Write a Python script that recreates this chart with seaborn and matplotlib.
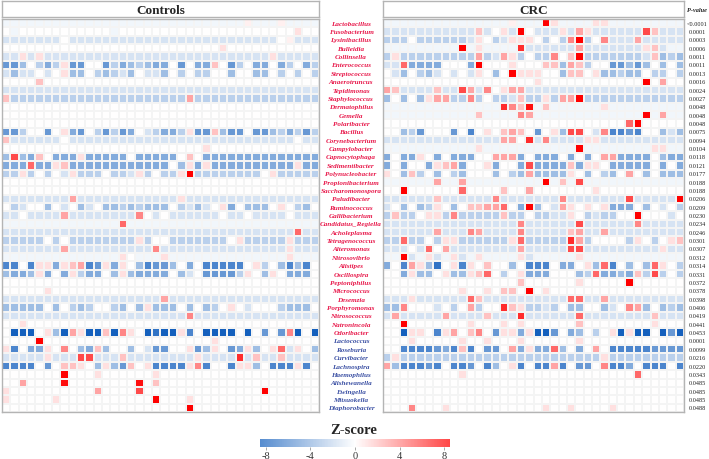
import numpy as np
import pandas as pd
import matplotlib
matplotlib.use("Agg")
import matplotlib.pyplot as plt
import seaborn as sns
from matplotlib.colors import LinearSegmentedColormap

# genera enriched in CRC (red labels) and in controls (blue labels)
genera_up = ["Lactobacillus", "Fusobacterium", "Lysinibacillus", "Bulleidia", "Collinsella",
             "Enterococcus", "Streptococcus", "Anaerotruncus", "Tepidimonas", "Staphylococcus",
             "Dermatophilus", "Gemella", "Polaribacter", "Bacillus", "Corynebacterium",
             "Campylobacter", "Capnocytophaga", "Sedimentibacter", "Polynucleobacter",
             "Propionibacterium", "Saccharomonospora", "Paludibacter", "Ruminococcus",
             "Gallibacterium", "Candidatus_Regiella", "Acholeplasma", "Tetragenococcus",
             "Alteromonas", "Nitrosovibrio", "Alistipes", "Oscillospira", "Peptoniphilus",
             "Micrococcus", "Desemzia", "Porphyromonas", "Nitrosococcus", "Natronincola",
             "Odoribacter"]
genera_down = ["Lactococcus", "Roseburia", "Curvibacter", "Lachnospira", "Haemophilus",
               "Alishewanella", "Ewingella", "Mitsuokella", "Diaphorobacter"]

p_values = ["<0.0001", "0.0001", "0.0003", "0.0006", "0.0011", "0.0011", "0.0013", "0.0016",
            "0.0024", "0.0027", "0.0048", "0.0048", "0.0048", "0.0075", "0.0094", "0.0104",
            "0.0118", "0.0121", "0.0177", "0.0188", "0.0188", "0.0206", "0.0209", "0.0230",
            "0.0234", "0.0246", "0.0301", "0.0307", "0.0312", "0.0314", "0.0331", "0.0372",
            "0.0378", "0.0398", "0.0406", "0.0419", "0.0441", "0.0453", "0.0001", "0.0099",
            "0.0216", "0.0220", "0.0343", "0.0485", "0.0485", "0.0485", "0.0488"]

z_code = {".": -0.5, ",": 0.5, "0": 0.0,
          "1": 1, "2": 2, "3": 3, "4": 4, "5": 5, "6": 6, "7": 7, "8": 8, "9": 9,
          "a": -1.5, "b": -2.5, "c": -3.5, "d": -4.5, "e": -5.5, "f": -6.5, "g": -7.5, "h": -8.5}

controls_rows = [
    "...... ...... ...... ...... ....., ...,.. ..",
    "0.0000 000000 0.0000 000000 000000 000001 00",
    "aaaaaa a0aaaa aaaaaa aaaaaa aaaaaa aaa0,a aa",
    "000000 000000 000000 000000 001000 000000 00",
    "aa1a1a aaaaaa aaaaaa aaaaaa aaaaaa aa1aaa aa",
    "eec0bd b1ee00 ebdcbc dd0e0d d20eb0 dd0db0 db",
    "acaa0a 01cc0b cbac0a ac0b0b b00c00 cc0b0b 0b",
    "000020 000000 000000 000000 000000 000000 00",
    "aaaaaa aaaaaa aaaaaa aaaaaa aaaaaa aaaaaa aa",
    "2bbbbb bbbbbb bbbbbb bbbb3b bbbbbb bbbbbb bb",
    "000000 000000 000000 000000 000000 000000 00",
    "000000 000000 000000 000000 000000 000000 00",
    "000000 000000 000000 000000 000000 000000 00",
    "eeb00e 01de0b ebed0a bddb1e e2cee0 eecbdb eb",
    "2aaaaa a0aaaa aaaaaa aaaaaa aaaaaa aaaaa0 aa",
    "000000 000000 000000 000000 100000 000000 00",
    "c6cd20 ddd1dd ddd0dd ddd020 dddddd dddddd dd",
    "ddd5dd 12dddd dddddd dd0c1d 1ddddd ddddd1 dd",
    "bb1b0b 0a1bbb 0bba1b 0bb19b bbbbbb b01bbb bb",
    "000000 000000 000000 000000 000000 000000 00",
    "000000 000000 000000 000000 000000 000000 00",
    "aaaaaa aa3aaa aaaaaa aaa1aa aaaaaa aaaaaa aa",
    "0ba00c 0a0ca0 ccbcbc cc0bac a01d0c cc010b c0",
    "aa0aaa a3aaaa aaaa40 a0aaaa aa0aa0 aaaa0a aa",
    "...... ...... ..5... ...... ...... ...... ..",
    "aaaaaa aaaaaa aaaaaa aaaaaa aaaaaa aaaaa5 aa",
    "bbbbb0 b0bbbb bbbb1b 00bbbb bbb01b bbbb1b bb",
    "aaaaaa a3aaaa aaaaaa 4aaaaa aaaaaa aaaa1a aa",
    "...... ...... ..10.. .1.... ...... ....1. ..",
    "ff0f11 d123fe 1d10cf eec0d0 fffff0 1b0cfc f0",
    "cddc1d 0d1bdd 0c1cdd dd0ca0 eeeeb1 0c10dd d0",
    "000000 000000 000000 000000 000000 000000 00",
    "000001 000000 000000 000000 000000 000000 00",
    "aaaaaa aaaaaa aaaaaa a3aaaa aaaaaa aaaaaa aa",
    "ccccc0 c0bcb0 0bc0c1 ccc0c0 cb010a 000bcc c0",
    "aaaaaa aaaaaa aaaaaa aaaa4a aaaaaa aaaaaa aa",
    "001000 000000 000000 000000 000000 000000 00",
    "0hhh01 ch31hh 2h410h ghh1f0 hhhh0h 0e0e4h 0h",
    "000090 000000 000000 000000 010000 000000 00",
    "1f0dd1 040cd2 c00c0a ee001e c10ed1 c015a1 0c",
    "aaaaa1 aaa66a aa2aaa aaaaa1 aaaa7a 2aa2aa aa",
    "ffff0e 02210c 1ce201 ffff14 f00f11 c0fff1 f0",
    "000000 090001 000000 100000 000000 000000 00",
    "003000 080000 000080 200000 000000 000000 00",
    "100000 000003 000060 000000 000000 090000 00",
    "100000 100000 000000 900010 000000 000000 00",
    "000000 000000 000000 000090 000000 000000 00",
]

crc_rows = [
    "...... ...... ...,.. .91... .11... ......",
    "aaaaaa aaaaa2 a01a90 aaa1a3 1aaaaa a62aaa",
    "bbb0bb bbbba1 0ba111 0b0b49 b04aaa 3aaaaa",
    "...... ...9.1 ....7a aaaaa3 aaaaaa a12a..",
    "b1bbbb bbbbb3 ba31b0 bb4029 bbbbbb ba2cbc",
    "aa5ddd d000d9 000100 022c32 b00eec ec0c0c",
    "0ac0bc a0a0a1 0c0911 100c22 01ccbc c0bb0b",
    "000000 000000 000000 100000 000000 090300",
    "32aaaa 2aa63a 40133a aaaaaa aaaaaa aaaaaa",
    "c0c0c1 33bb4b 0bba2b b1b339 bbbbbb bbbbbb",
    "...... ...... ..7428 .2.... ..1... ......",
    "...... .....2 ....43 ...... ...... .9.3..",
    "000000 000000 000000 000000 000005 900000",
    "00cbe0 00e0f0 102320 e01c66 0a4ffe f00cac",
    "aaaaaa aaaaaa aa3307 a4aaaa 11aaaa aaaaaa",
    "...... .....1 ...... .....9 ...... ..11..",
    "d0dd10 d0ddd0 0333d0 ddd0d0 d033dd dd0cdd",
    "d0d00d 123d00 1d00d6 dddd2d 110ddd dd0d0d",
    "10c2b0 c0bc00 0c0bc3 cccc10 c0bc03 0c0ccc",
    "...... 3..3.. ...... .9.2.6 ...... ......",
    "009000 000500 002003 000000 010000 000000",
    "aaaaaa 2aaaaa a4aaaa aaa4aa aaaaa6 aaaaa9",
    "a0c0cb 10c022 3350d9 c0a310 101ddd 0c0a0b",
    "b2bb01 1b4bbb bb2bb0 bbaa10 babb00 9000a0",
    "aaaaaa aaaaaa aaaa4a aaaaa6 aaaaaa 4aaaaa",
    "aaaaaa 3aaa43 aaaa4a aaaa23 aa3aaa aaaaaa",
    "bb5bb0 b11bbb bbb15b bbbb73 b0000b 10b012",
    "aaa0a5 03aaaa aaaa3a aaaa66 aaaaaa aaa1aa",
    "..9a.1 a.1a.1 ....1a .....1 ...... ......",
    "d0f31c g01f10 200c0f ff0dd0 1c5f0c 0c510b",
    "00d1cc 01cc12 50b01d dd000c b5ddcd 2b6b0b",
    "000000 000000 000020 000001 000009 000000",
    "000000 000100 102209 010000 000000 000000",
    "aaa1aa aaaa52 aaaaaa aaaa55 aa3aaa aaaaaa",
    "cc4000 a0b03b 00721b bab0cc 00ca04 3c0cbc",
    "a3aaaa a3aaaa 2aaa7a aaaaa5 aaaaaa aa2aaa",
    "009000 000010 001010 000002 000000 001000",
    "00h110 f13024 0e11d1 hhe0dc 0b01h1 hh0heh",
    "000100 000100 100010 000001 000000 000000",
    "00ffff edf2f0 ee03d1 dd5c0d 030fff ffeeee",
    "b1bbbb bbbbbb bbbbbb bbbbbb bb1bbb bbbbbb",
    "3cfffe f0ffe0 fc01f0 ff3f0e e04ffd 0fff0f",
    "000000 000100 000000 000000 000000 500000",
    "000000 000000 000000 000000 000000 000000",
    "000000 000000 000000 000000 000000 000000",
    "000000 000000 000000 000000 000000 000000",
    "000400 010000 000000 010010 000100 000000",
]


def decode(rows):
    return np.array([[z_code[ch] for ch in r.replace(" ", "")] for r in rows], dtype=float)


genera = genera_up + genera_down
ctrl = pd.DataFrame(decode(controls_rows), index=genera)
crc = pd.DataFrame(decode(crc_rows), index=genera)

sns.set_style("white")
plt.rcParams["font.family"] = ["Liberation Serif", "DejaVu Serif"]
plt.rcParams["axes.unicode_minus"] = False

W, H = 709, 460
fig = plt.figure(figsize=(W / 100, H / 100), dpi=100)


def px_axes(x0, y0, x1, y1):
    return fig.add_axes([x0 / W, 1 - y1 / H, (x1 - x0) / W, (y1 - y0) / H])


cmap = LinearSegmentedColormap.from_list("zscore", ["#1560bd", "#ffffff", "#ff0000"])
frame_col = "#b4b4b4"
vlim = 8.5

ax_c = px_axes(2, 20, 319, 413)
ax_r = px_axes(383, 20, 684, 413)
cax = px_axes(260, 440, 450, 448)

sns.heatmap(ctrl, ax=ax_c, cmap=cmap, vmin=-vlim, vmax=vlim, cbar=True, cbar_ax=cax,
            cbar_kws={"orientation": "horizontal", "ticks": [-8, -4, 0, 4, 8]},
            linewidths=0.2, linecolor="#f4f4f4", xticklabels=False, yticklabels=False)
sns.heatmap(crc, ax=ax_r, cmap=cmap, vmin=-vlim, vmax=vlim, cbar=False,
            linewidths=0.2, linecolor="#f4f4f4", xticklabels=False, yticklabels=False)

for ax in (ax_c, ax_r):
    ax.set_xlabel("")
    ax.set_ylabel("")
    for sp in ax.spines.values():
        sp.set_visible(True)
        sp.set_color(frame_col)
        sp.set_linewidth(1)

# group header boxes
for (x0, x1), title in [((2, 319), "Controls"), ((383, 684), "CRC")]:
    hax = px_axes(x0, 2, x1, 18)
    hax.set_xticks([])
    hax.set_yticks([])
    for sp in hax.spines.values():
        sp.set_color(frame_col)
        sp.set_linewidth(1)
    hax.text(0.5, 0.45, title, ha="center", va="center", fontsize=9.5,
             fontweight="bold", transform=hax.transAxes)

# genus names between the panels, p-values on the right
n = len(genera)
for i, name in enumerate(genera):
    y = 20 + (i + 0.5) * 393 / n
    col = "#e8194b" if i < len(genera_up) else "#3a4fa3"
    fig.text(351 / W, 1 - y / H, name, ha="center", va="center", fontsize=5.1,
             fontweight="bold", fontstyle="italic", color=col)
    fig.text(697 / W, 1 - y / H, p_values[i], ha="center", va="center",
             fontsize=4.5, color="#222222")
fig.text(697 / W, 1 - 11 / H, "P-value", ha="center", va="center", fontsize=4.5,
         fontweight="bold", fontstyle="italic", color="#222222")

# colour bar
cbar = ax_c.collections[0].colorbar
cbar.outline.set_visible(False)
cbar.solids.set_alpha(0.72)
cax.tick_params(length=2, width=0.6, color="#999999", labelsize=7.5, pad=1,
                labelcolor="#333333")
fig.text(354 / W, 1 - 431 / H, "Z-score", ha="center", va="center",
         fontsize=10.5, fontweight="bold")

fig.savefig("out.png", dpi=100)
